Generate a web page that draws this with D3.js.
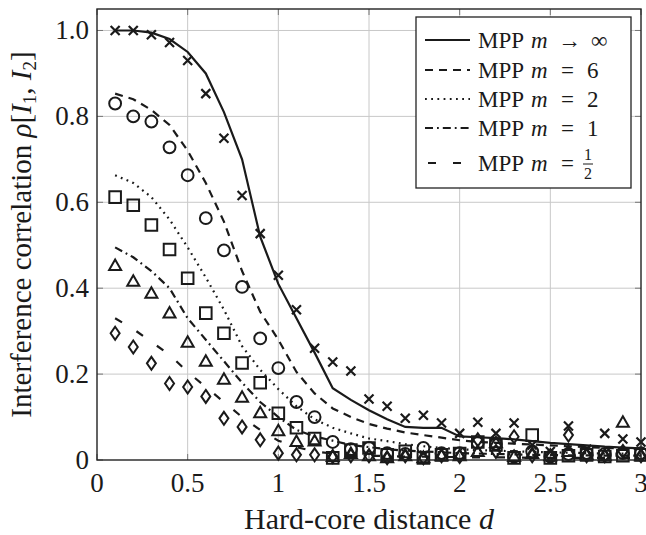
<!DOCTYPE html>
<html>
<head>
<meta charset="utf-8">
<script src="https://cdn.jsdelivr.net/npm/d3@7"></script>
<style>
  body { margin: 0; background: #fff; }
</style>
</head>
<body>
<div id="plot"></div>
<script>
// hard-core distance d (x positions of every sample)
const dist = [0.1, 0.2, 0.3, 0.4, 0.5, 0.6, 0.7, 0.8, 0.9, 1.0,
              1.1, 1.2, 1.3, 1.4, 1.5, 1.6, 1.7, 1.8, 1.9, 2.0,
              2.1, 2.2, 2.3, 2.4, 2.5, 2.6, 2.7, 2.8, 2.9, 3.0];

// analytic curves (MPP)
const mppInf = [1.0, 1.0, 0.995, 0.98, 0.95, 0.90, 0.81, 0.70, 0.52, 0.41,
                0.33, 0.25, 0.167, 0.14, 0.116, 0.095, 0.077, 0.075, 0.075, 0.055,
                0.053, 0.051, 0.048, 0.044, 0.040, 0.037, 0.034, 0.031, 0.029, 0.027];
const mpp6 = [0.853, 0.84, 0.815, 0.78, 0.72, 0.645, 0.555, 0.44, 0.345, 0.28,
              0.205, 0.155, 0.12, 0.10, 0.084, 0.073, 0.064, 0.058, 0.052, 0.046,
              0.042, 0.040, 0.038, 0.036, 0.034, 0.032, 0.030, 0.028, 0.027, 0.025];
const mpp2 = [0.663, 0.645, 0.612, 0.56, 0.495, 0.425, 0.35, 0.265, 0.21, 0.165,
              0.125, 0.095, 0.075, 0.062, 0.05, 0.044, 0.037, 0.032, 0.028, 0.025,
              0.023, 0.022, 0.02, 0.019, 0.018, 0.017, 0.016, 0.015, 0.015, 0.014];
const mpp1 = [0.495, 0.472, 0.44, 0.40, 0.33, 0.28, 0.23, 0.18, 0.135, 0.10,
              0.07, 0.055, 0.045, 0.035, 0.03, 0.025, 0.022, 0.02, 0.018, 0.016,
              0.015, 0.014, 0.013, 0.012, 0.012, 0.011, 0.011, 0.01, 0.01, 0.01];
const mppHalf = [0.33, 0.305, 0.275, 0.245, 0.205, 0.17, 0.135, 0.10, 0.07, 0.045,
                 0.03, 0.02, 0.015, 0.012, 0.01, 0.009, 0.008, 0.008, 0.007, 0.007,
                 0.006, 0.006, 0.006, 0.005, 0.005, 0.005, 0.005, 0.005, 0.005, 0.005];

// simulated points
const simInf = [1.0, 1.0, 0.99, 0.972, 0.93, 0.853, 0.749, 0.616, 0.527, 0.43,
                0.35, 0.26, 0.228, 0.207, 0.142, 0.125, 0.097, 0.104, 0.086, 0.062,
                0.088, 0.062, 0.086, 0.035, 0.02, 0.079, 0.025, 0.062, 0.049, 0.042];
const sim6 = [0.83, 0.80, 0.788, 0.728, 0.663, 0.563, 0.488, 0.403, 0.283, 0.214,
              0.135, 0.10, 0.042, 0.025, 0.028, 0.016, 0.014, 0.028, 0.016, 0.016,
              0.04, 0.037, 0.008, 0.02, 0.008, 0.014, 0.016, 0.014, 0.016, 0.016];
const sim2 = [0.612, 0.593, 0.547, 0.49, 0.423, 0.342, 0.295, 0.226, 0.18, 0.109,
              0.075, 0.05, 0.005, 0.023, 0.028, 0.012, 0.02, 0.005, 0.012, 0.015,
              0.042, 0.035, 0.005, 0.058, 0.005, 0.01, 0.012, 0.008, 0.01, 0.012];
const sim1 = [0.453, 0.416, 0.388, 0.342, 0.274, 0.23, 0.188, 0.146, 0.11, 0.068,
              0.043, 0.044, 0.008, 0.015, 0.01, 0.005, 0.01, 0.005, 0.01, 0.01,
              0.02, 0.04, 0.008, 0.015, 0.01, 0.02, 0.012, 0.01, 0.088, 0.01];
const simHalf = [0.295, 0.263, 0.225, 0.178, 0.17, 0.148, 0.097, 0.077, 0.047, 0.016,
                 0.012, 0.012, 0.008, 0.01, 0.01, 0.005, 0.01, 0.005, 0.01, 0.008,
                 0.047, 0.02, 0.054, 0.01, 0.01, 0.058, 0.01, 0.01, 0.02, 0.01];

const xTicks = [0, 0.5, 1, 1.5, 2, 2.5, 3];
const yTicks = [0, 0.2, 0.4, 0.6, 0.8, 1.0];

const legendLabels = [
    { rel: "\u2192", val: "\u221e" },
    { rel: "=", val: "6" },
    { rel: "=", val: "2" },
    { rel: "=", val: "1" },
    { rel: "=", val: "frac" }
];

const width = 646, height = 535;
const margin = { top: 9, right: 5, bottom: 75, left: 97 };
const ink = "#1a1a1a";
const serif = "Liberation Serif";

let svg = d3.select("#plot").append("svg")
    .attr("width", width)
    .attr("height", height)
    .style("font-family", serif);

let x = d3.scaleLinear().domain([0, 3]).range([margin.left, width - margin.right]);
let y = d3.scaleLinear().domain([0, 1.05]).range([height - margin.bottom, margin.top]);

// grid
let grid = svg.append("g").attr("stroke", "#c8c8c8").attr("stroke-width", 1);
grid.selectAll("line.gx").data(xTicks.slice(1, -1)).join("line")
    .attr("x1", d => x(d)).attr("x2", d => x(d))
    .attr("y1", y.range()[0]).attr("y2", y.range()[1]);
grid.selectAll("line.gy").data(yTicks.slice(1)).join("line")
    .attr("y1", d => y(d)).attr("y2", d => y(d))
    .attr("x1", x.range()[0]).attr("x2", x.range()[1]);

// inner ticks on all four sides
let ticks = svg.append("g").attr("stroke", "#777").attr("stroke-width", 1);
xTicks.forEach(t => {
    ticks.append("line").attr("x1", x(t)).attr("x2", x(t)).attr("y1", y(0)).attr("y2", y(0) - 6);
    ticks.append("line").attr("x1", x(t)).attr("x2", x(t)).attr("y1", y(1.05)).attr("y2", y(1.05) + 6);
});
yTicks.forEach(t => {
    ticks.append("line").attr("y1", y(t)).attr("y2", y(t)).attr("x1", x(0)).attr("x2", x(0) + 6);
    ticks.append("line").attr("y1", y(t)).attr("y2", y(t)).attr("x1", x(3)).attr("x2", x(3) - 6);
});

// tick labels
svg.append("g").selectAll("text").data(xTicks).join("text")
    .attr("x", d => x(d)).attr("y", y(0) + 32)
    .attr("text-anchor", "middle")
    .attr("font-size", 27).attr("fill", ink)
    .text(d => d3.format("~g")(d));
svg.append("g").selectAll("text").data(yTicks).join("text")
    .attr("x", x(0) - 8).attr("y", d => y(d) + 9)
    .attr("text-anchor", "end")
    .attr("font-size", 27).attr("fill", ink)
    .text(d => d === 0 ? "0" : d3.format(".1f")(d));

// curves
const curves = [
    { v: mppInf, dash: null },
    { v: mpp6, dash: "8,6" },
    { v: mpp2, dash: "1.8,4.4" },
    { v: mpp1, dash: "8,4,1.8,4" },
    { v: mppHalf, dash: "8,17" }
];

let line = d3.line().x(d => x(d[0])).y(d => y(d[1]));
let plotArea = svg.append("g");
curves.forEach(c => {
    plotArea.append("path")
        .attr("d", line(dist.map((d, i) => [d, c.v[i]])))
        .attr("fill", "none")
        .attr("stroke", ink)
        .attr("stroke-width", 2.2)
        .attr("stroke-dasharray", c.dash);
});

// markers
const markerSets = [
    { v: simInf, type: "cross" },
    { v: sim6, type: "circle" },
    { v: sim2, type: "square" },
    { v: sim1, type: "triangle" },
    { v: simHalf, type: "diamond" }
];

function markPath(type) {
    if (type === "cross") return "M-4.5,-4.5L4.5,4.5M-4.5,4.5L4.5,-4.5";
    if (type === "circle") return d3.symbol(d3.symbolCircle, 110)();
    if (type === "square") return "M-5.8,-5.8H5.8V5.8H-5.8Z";
    if (type === "triangle") return "M0,-6L6,4.5H-6Z";
    if (type === "diamond") return "M0,-6.5L4.5,0L0,6.5L-4.5,0Z";
}

markerSets.forEach(m => {
    plotArea.append("g").selectAll("path")
        .data(dist.map((d, i) => [d, m.v[i]]))
        .join("path")
        .attr("transform", d => `translate(${x(d[0])},${y(d[1])})`)
        .attr("d", markPath(m.type))
        .attr("fill", "none")
        .attr("stroke", ink)
        .attr("stroke-width", m.type === "cross" ? 2.2 : 2);
});

// frame
svg.append("rect")
    .attr("x", x(0)).attr("y", y(1.05))
    .attr("width", x(3) - x(0)).attr("height", y(0) - y(1.05))
    .attr("fill", "none").attr("stroke", "#222").attr("stroke-width", 1.4);

// legend
let lg = svg.append("g");
lg.append("rect")
    .attr("x", 416).attr("y", 17).attr("width", 215).attr("height", 171)
    .attr("fill", "#fff").attr("stroke", "#222").attr("stroke-width", 1.3);
const rowY = [40, 70, 99, 128, 163];
legendLabels.forEach((l, i) => {
    let ry = rowY[i];
    lg.append("line")
        .attr("x1", 425).attr("x2", 470).attr("y1", ry).attr("y2", ry)
        .attr("stroke", ink).attr("stroke-width", 2.2)
        .attr("stroke-dasharray", i === 4 ? "8,17" : curves[i].dash)
        .attr("stroke-dashoffset", i === 4 ? -3 : 0);
    let t = lg.append("text")
        .attr("y", ry + 8)
        .attr("font-size", 23).attr("fill", ink);
    t.append("tspan").attr("x", 478).text("MPP");
    t.append("tspan").attr("x", 531).attr("font-style", "italic").text("m");
    t.append("tspan").attr("x", l.rel === "=" ? 561 : 558).text(l.rel);
    if (l.val === "\u221e") {
        t.append("tspan").attr("x", 591).text(l.val);
    } else if (l.val !== "frac") {
        t.append("tspan").attr("x", 587).text(l.val);
    } else {
        let fx = 588;
        lg.append("text").attr("x", fx).attr("y", ry - 3)
            .attr("text-anchor", "middle").attr("font-size", 16).attr("fill", ink).text("1");
        lg.append("line").attr("x1", fx - 5).attr("x2", fx + 5)
            .attr("y1", ry + 1).attr("y2", ry + 1)
            .attr("stroke", ink).attr("stroke-width", 1);
        lg.append("text").attr("x", fx).attr("y", ry + 16)
            .attr("text-anchor", "middle").attr("font-size", 16).attr("fill", ink).text("2");
    }
});

// axis titles
let xt = svg.append("text")
    .attr("x", (x(0) + x(3)) / 2).attr("y", 529)
    .attr("text-anchor", "middle")
    .attr("font-size", 30).attr("fill", ink);
xt.append("tspan").text("Hard-core distance ");
xt.append("tspan").attr("font-style", "italic").text("d");

let yt = svg.append("text")
    .attr("transform", `translate(31,${(y(0) + y(1.05)) / 2}) rotate(-90)`)
    .attr("text-anchor", "middle")
    .attr("font-size", 29).attr("fill", ink);
yt.append("tspan").text("Interference correlation ");
yt.append("tspan").attr("font-style", "italic").text("\u03c1");
yt.append("tspan").text("[");
yt.append("tspan").attr("font-style", "italic").text("I");
yt.append("tspan").attr("font-size", 19).attr("dy", 5).text("1");
yt.append("tspan").attr("dy", -5).text(", ");
yt.append("tspan").attr("font-style", "italic").text("I");
yt.append("tspan").attr("font-size", 19).attr("dy", 5).text("2");
yt.append("tspan").attr("dy", -5).text("]");
</script>
</body>
</html>
